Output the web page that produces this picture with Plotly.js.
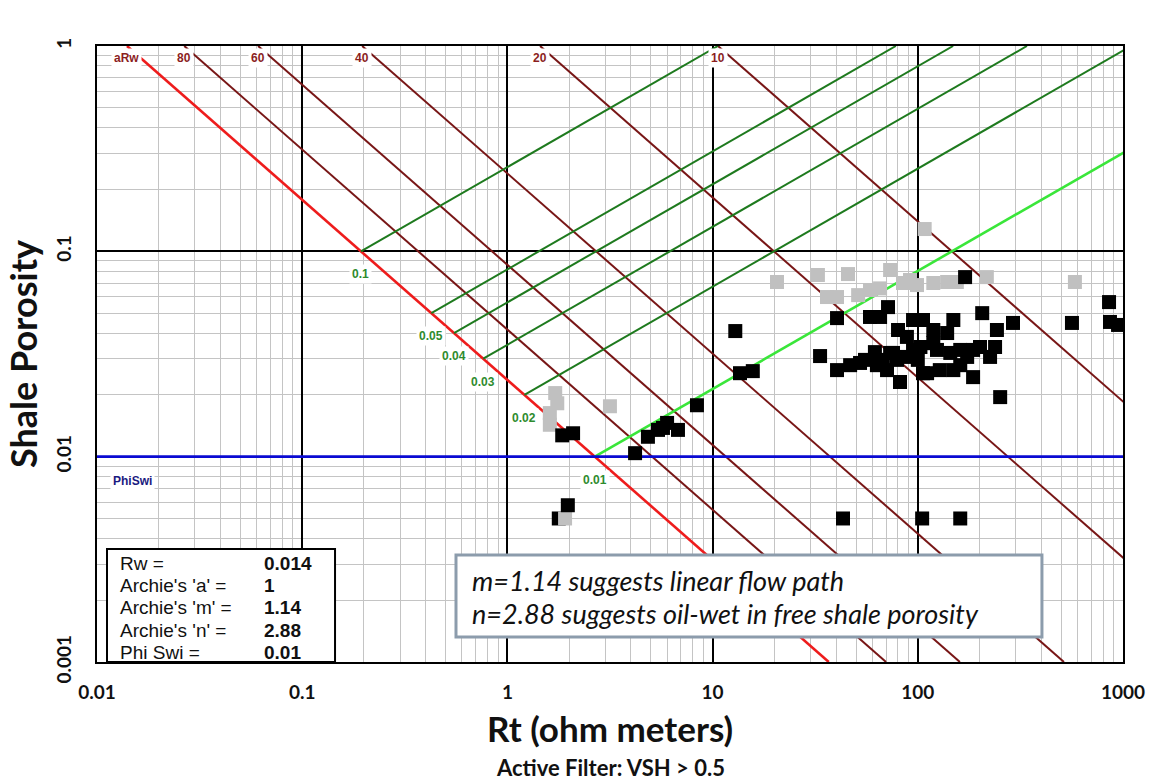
<!DOCTYPE html>
<html>
<head>
<meta charset="utf-8">
<script src="https://cdn.plot.ly/plotly-3.0.1.min.js"></script>
<style>html,body{margin:0;padding:0;background:#fff;}#chart{width:1152px;height:780px;}</style>
</head>
<body>
<div id="chart"></div>
<script>
// ---- Archie / Pickett parameters (from the info box) ----
const Rw = 0.014;
const archieA = 1;
const archieM = 1.14;
const archieN = 2.88;
const phiSwi = 0.01;

// Water saturation lines (fraction) and their labels
const swValues = [1, 0.8, 0.6, 0.4, 0.2, 0.1];
const swLabels = ['aRw', '80', '60', '40', '20', '10'];

// Bulk volume water lines and labels
const bvwValues = [0.1, 0.05, 0.04, 0.03, 0.02, 0.01];
const bvwLabels = ['0.1', '0.05', '0.04', '0.03', '0.02', '0.01'];

// Axis ticks
const xTickVals = [0.01, 0.1, 1, 10, 100, 1000];
const xTickText = ['0.01', '0.1', '1', '10', '100', '1000'];
const yTickVals = [0.001, 0.01, 0.1, 1];
const yTickText = ['0.001', '0.01', '0.1', '1'];

// Filtered-out samples (gray)
const grayRt  = [1.71, 1.75, 1.61, 1.61, 3.16, 1.91, 108, 20.6, 32.6, 45.7, 73.3, 36.1, 40.4, 51.2, 58.5, 65.5, 84.7, 91.6, 99.1, 119, 139, 155, 217, 583];
const grayPhi = [0.0204, 0.0182, 0.0163, 0.0143, 0.0176, 0.0050, 0.1284, 0.0709, 0.0767, 0.0775, 0.0811, 0.0599, 0.0599, 0.0612, 0.0648, 0.0660, 0.0701, 0.0725, 0.0685, 0.0701, 0.0709, 0.0709, 0.0749, 0.0709];

// Active samples (black) partly hidden behind gray
const hiddenRt  = [1.78];
const hiddenPhi = [0.0050];

// Active samples (black)
const blackRt  = [1.85, 2.09, 1.97, 4.19, 4.84, 5.42, 6.00, 5.73, 6.78, 8.39, 12.9, 13.6, 15.7, 43.2, 105, 161,
                  33.4, 40.4, 40.4, 46.8, 55.3, 61.8, 63.2, 70.8, 81.9, 58.5, 65.5, 71.6, 80.1, 88.5, 94.8, 106,
                  119, 149, 206, 291, 139, 243, 238, 201, 174, 161, 186, 128, 111, 100, 88.5, 94.8, 144, 124,
                  79.2, 73.3, 252, 225, 186, 161, 170, 564, 855, 864, 946, 119, 103, 149, 106, 52.3, 67.6, 75.7];
const blackPhi = [0.0127, 0.0130, 0.0058, 0.0104, 0.0125, 0.0135, 0.0146, 0.0138, 0.0135, 0.0178, 0.0409, 0.0255, 0.0261, 0.0050, 0.0050, 0.0050,
                  0.0309, 0.0473, 0.0264, 0.0279, 0.0296, 0.0323, 0.0279, 0.0264, 0.0231, 0.0479, 0.0479, 0.0535, 0.0414, 0.0383, 0.0463, 0.0463,
                  0.0414, 0.0463, 0.0500, 0.0448, 0.0400, 0.0414, 0.0342, 0.0342, 0.0306, 0.0279, 0.0244, 0.0264, 0.0255, 0.0296, 0.0306, 0.0331, 0.0320, 0.0331,
                  0.0296, 0.0320, 0.0195, 0.0306, 0.0331, 0.0331, 0.0749, 0.0448, 0.0566, 0.0453, 0.0438, 0.0357, 0.0342, 0.0264, 0.0255, 0.0286, 0.0296, 0.0320];

const aRw = archieA * Rw;
const rtAt = (phi, sw) => aRw / (Math.pow(phi, archieM) * Math.pow(sw, archieN));

const traces = [];

// Sw lines
swValues.forEach((sw, i) => {
  traces.push({
    x: [rtAt(1, sw), rtAt(0.001, sw)], y: [1, 0.001],
    mode: 'lines', hoverinfo: 'skip', showlegend: false,
    line: {color: i === 0 ? '#ee1c1c' : '#781616', width: i === 0 ? 2.6 : 2}
  });
});

// BVW lines (phi * Sw = const), from the Sw=1 line up to phi = 1
bvwValues.forEach((b, i) => {
  traces.push({
    x: [rtAt(b, 1), rtAt(1, b)], y: [b, 1],
    mode: 'lines', hoverinfo: 'skip', showlegend: false,
    line: {color: i === bvwValues.length - 1 ? '#3ae63a' : '#1e7a1e', width: i === bvwValues.length - 1 ? 2.6 : 2}
  });
});

// PhiSwi line
traces.push({
  x: [xTickVals[0], xTickVals[xTickVals.length - 1]], y: [phiSwi, phiSwi],
  mode: 'lines', hoverinfo: 'skip', showlegend: false,
  line: {color: '#0a0ad2', width: 2.6}
});

const markerStyle = (c) => ({symbol: 'square', size: 14, color: c, line: {width: 0}});
traces.push({x: hiddenRt, y: hiddenPhi, mode: 'markers', showlegend: false, marker: markerStyle('#000000')});
traces.push({x: grayRt, y: grayPhi, mode: 'markers', showlegend: false, marker: markerStyle('#c0c0c0')});
traces.push({x: blackRt, y: blackPhi, mode: 'markers', showlegend: false, marker: markerStyle('#000000')});

const smallFont = (c) => ({family: 'Liberation Sans, Arial, sans-serif', size: 12, color: c, weight: 'bold'});
const annotations = [];

swValues.forEach((sw, i) => {
  annotations.push({
    x: Math.log10(rtAt(1, sw)), y: 0, xref: 'x', yref: 'y', xanchor: 'center', yanchor: 'middle',
    text: swLabels[i], showarrow: false, yshift: -12,
    bgcolor: '#ffffff', borderpad: 2,
    font: smallFont('#8b1e1e')
  });
});
bvwValues.forEach((b, i) => {
  annotations.push({
    x: Math.log10(rtAt(b, 1)), y: Math.log10(b), xref: 'x', yref: 'y', xanchor: 'center', yanchor: 'middle',
    text: bvwLabels[i], showarrow: false, yshift: -23,
    bgcolor: '#ffffff', borderpad: 2,
    font: smallFont('#2e8b2e')
  });
});
annotations.push({
  x: 0.035, xref: 'paper', y: Math.log10(phiSwi), yref: 'y', xanchor: 'center', yanchor: 'middle',
  text: 'PhiSwi', showarrow: false, yshift: -24,
  bgcolor: '#ffffff', borderpad: 2, font: smallFont('#1a1a80')
});

// Info box text (two columns)
const infoLabels = ['Rw =', "Archie's 'a' =", "Archie's 'm' =", "Archie's 'n' =", 'Phi Swi ='];
const infoValues = [Rw, archieA, archieM, archieN, phiSwi].map(String);
const infoRowY = [0.1591, 0.1234, 0.0877, 0.0519, 0.0162];
infoLabels.forEach((t, i) => {
  annotations.push({x: 0.0205, y: infoRowY[i], xref: 'paper', yref: 'paper', xanchor: 'left', yanchor: 'middle',
    text: t, showarrow: false,
    font: {family: 'Liberation Sans, Arial, sans-serif', size: 19, color: '#111'}});
  annotations.push({x: 0.1608, y: infoRowY[i], xref: 'paper', yref: 'paper', xanchor: 'left', yanchor: 'middle',
    text: infoValues[i], showarrow: false,
    font: {family: 'Liberation Sans, Arial, sans-serif', size: 19, color: '#111', weight: 'bold'}});
});

// Comment box
annotations.push({x: 0.3635, y: 0.1331, xref: 'paper', yref: 'paper', xanchor: 'left', yanchor: 'middle',
  text: 'm=1.14 suggests linear flow path', showarrow: false,
  font: {family: 'Lato, sans-serif', size: 27, style: 'italic', color: '#111'}});
annotations.push({x: 0.3635, y: 0.0795, xref: 'paper', yref: 'paper', xanchor: 'left', yanchor: 'middle',
  text: 'n=2.88 suggests oil-wet in free shale porosity', showarrow: false,
  font: {family: 'Lato, sans-serif', size: 27, style: 'italic', color: '#111'}});

// Subtitle
annotations.push({x: 0.5, y: -0.172, xref: 'paper', yref: 'paper', xanchor: 'center', yanchor: 'middle',
  text: 'Active Filter: VSH > 0.5', showarrow: false,
  font: {family: 'Lato, sans-serif', size: 22, color: '#111', weight: 'bold'}});

const shapes = [
  {type: 'rect', xref: 'paper', yref: 'paper', x0: 0.00975, x1: 0.232, y0: 0, y1: 0.1834,
   fillcolor: '#ffffff', line: {color: '#000000', width: 2}, layer: 'above'},
  {type: 'rect', xref: 'paper', yref: 'paper', x0: 0.3499, x1: 0.921, y0: 0.0406, y1: 0.1737,
   fillcolor: '#ffffff', line: {color: '#8c9cac', width: 3}, layer: 'above'}
];

const axisCommon = {
  type: 'log', showgrid: true, gridcolor: '#000000', gridwidth: 2,
  showline: true, linecolor: '#000000', linewidth: 2, mirror: true,
  ticks: '', zeroline: false,
  minor: {dtick: 'D1', showgrid: true, gridcolor: '#c4c4c4', gridwidth: 1, ticks: ''},
  tickfont: {family: 'Lato, sans-serif', size: 19, color: '#111', weight: 'bold'}
};

const layout = {
  width: 1152, height: 780,
  margin: {l: 97, r: 29, t: 46, b: 118},
  paper_bgcolor: '#ffffff', plot_bgcolor: '#ffffff',
  showlegend: false, hovermode: false,
  xaxis: Object.assign({}, axisCommon, {
    range: [-2, 3], tickvals: xTickVals, ticktext: xTickText, ticklabelstandoff: 12,
    title: {text: 'Rt (ohm meters)', standoff: 16, font: {family: 'Lato, sans-serif', size: 35, color: '#111', weight: 'bold'}}
  }),
  yaxis: Object.assign({}, axisCommon, {
    range: [-3, 0], tickvals: yTickVals, ticktext: yTickText, tickangle: -90, ticklabelstandoff: 16,
    title: {text: 'Shale Porosity', standoff: 4, font: {family: 'Lato, sans-serif', size: 36, color: '#111', weight: 'bold'}}
  }),
  annotations: annotations,
  shapes: shapes
};

Plotly.newPlot('chart', traces, layout, {displayModeBar: false, staticPlot: true});
</script>
</body>
</html>
